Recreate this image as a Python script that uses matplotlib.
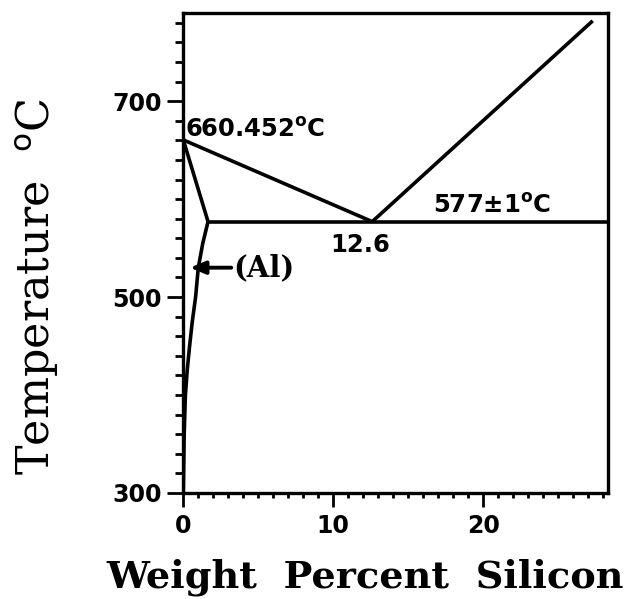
import matplotlib
matplotlib.use('Agg')
import matplotlib.pyplot as plt
from matplotlib.ticker import MultipleLocator, FixedLocator

# ---- data (wt% Si, temperature in C) ----
liq_al_si = [0.0, 12.6]
liq_al_T = [660.452, 577.0]
liq_si_si = [12.6, 27.3]
liq_si_T = [577.0, 782.0]
solidus_si = [0.0, 1.65]
solidus_T = [660.452, 577.0]
eutectic_si = [1.65, 30.0]
eutectic_T = [577.0, 577.0]
solvus_si = [1.65, 1.3, 1.0, 0.82, 0.6, 0.42, 0.26, 0.14, 0.06, 0.0]
solvus_T = [577, 555, 530, 500, 475, 450, 425, 400, 360, 300]
xticks = [0, 10, 20]
yticks = [300, 500, 700]
xlim = (0, 28.3)
ylim = (300, 790)

fig = plt.figure(figsize=(6.29, 5.99), dpi=100)
ax = fig.add_axes([0.2914, 0.1770, 0.6747, 0.8013])

lw = 2.6
for xs, ys in [(liq_al_si, liq_al_T), (liq_si_si, liq_si_T), (solidus_si, solidus_T),
               (eutectic_si, eutectic_T), (solvus_si, solvus_T)]:
    ax.plot(xs, ys, color='black', lw=lw, solid_capstyle='butt', solid_joinstyle='round')

ax.set_xlim(*xlim)
ax.set_ylim(*ylim)

ax.xaxis.set_major_locator(FixedLocator(xticks))
ax.yaxis.set_major_locator(FixedLocator(yticks))
ax.xaxis.set_minor_locator(MultipleLocator(1))
ax.yaxis.set_minor_locator(MultipleLocator(20))

for sp in ax.spines.values():
    sp.set_linewidth(2.4)

ax.tick_params(axis='both', which='both', direction='out', width=2.0, color='black')
ax.tick_params(axis='y', which='major', length=11.5, pad=4)
ax.tick_params(axis='y', which='minor', length=5.5)
ax.tick_params(axis='x', which='major', length=10, pad=5)
ax.tick_params(axis='x', which='minor', length=3.5)
for lab in ax.get_xticklabels() + ax.get_yticklabels():
    lab.set_fontfamily('DejaVu Sans')
    lab.set_fontweight('bold')
    lab.set_fontsize(17)

tk = dict(color='black', fontfamily='DejaVu Sans', fontweight='bold', fontsize=17.5)
ax.text(0.1, 664, '660.452$^{\\mathbf{o}}$C', ha='left', va='baseline', **tk)
ax.text(16.65, 586.5, '577\u00b11$^{\\mathbf{o}}$C', ha='left', va='baseline', **tk)
ax.text(11.8, 546.5, '12.6', ha='center', va='baseline', **tk)
ax.text(3.3, 530, '(Al)', ha='left', va='center', color='black',
        fontfamily='DejaVu Serif', fontweight='bold', fontsize=21)
ax.annotate('', xy=(0.45, 530), xytext=(3.2, 530),
            arrowprops=dict(arrowstyle='-|>,head_length=0.9,head_width=0.38',
                            color='black', lw=2.8, shrinkA=0, shrinkB=0))

fig.text(365 / 629, 1 - 588 / 599, 'Weight  Percent  Silicon', ha='center', va='baseline',
         fontfamily='DejaVu Serif', fontweight='bold', fontsize=27.5, color='black')
fig.text(50 / 629, 1 - 286 / 599, 'Temperature  $^{\\mathrm{o}}$C', ha='center', va='baseline',
         rotation=90, rotation_mode='anchor',
         fontfamily='DejaVu Serif', fontsize=32, color='black')

fig.savefig('out.png', dpi=100)
